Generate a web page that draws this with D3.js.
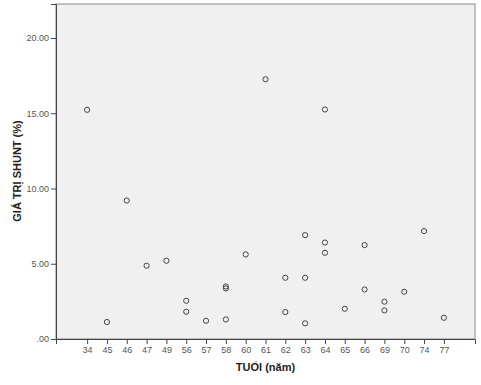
<!DOCTYPE html>
<html>
<head>
<meta charset="utf-8">
<script src="https://cdn.jsdelivr.net/npm/d3@7"></script>
<style>
  body { margin: 0; background: #fff; }
  svg { display: block; }
  .tick text { font-family: Arial, 'Liberation Sans', sans-serif; font-size: 9px; fill: #555; }
  .lbl { font-family: Arial, 'Liberation Sans', sans-serif; font-size: 11px; font-weight: bold; fill: #222; }
</style>
</head>
<body>
<svg width="481" height="385"></svg>
<script>
const ages = ['34', '45', '46', '47', '49', '56', '57', '58', '60', '61', '62', '63', '64', '65', '66', '69', '70', '74', '77']
const yTicks = [0, 5, 10, 15, 20]

// one entry per patient: age category, shunt value
const pointAge = ['34', '45', '46', '47', '49', '56', '56', '57', '58', '58', '58', '60', '61',
  '62', '62', '63', '63', '63', '64', '64', '64', '65', '66', '66', '69', '69', '70', '74', '77']
const pointShunt = [15.23, 1.13, 9.2, 4.87, 5.2, 2.54, 1.81, 1.21, 3.49, 3.36, 1.3, 5.62, 17.26,
  4.07, 1.79, 6.9, 4.07, 1.04, 15.25, 6.41, 5.73, 2.01, 6.24, 3.29, 2.48, 1.9, 3.14, 7.17, 1.41]

const plotLeft = 56
const plotRight = 475
const plotTop = 4
const plotBottom = 339

const svg = d3.select('svg')

const x = d3.scalePoint()
  .domain(ages)
  .range([plotLeft, plotRight])
  .padding(1.57)

const y = d3.scaleLinear()
  .domain([0, 22.26])
  .range([plotBottom, plotTop])

svg.append('rect')
  .attr('x', plotLeft)
  .attr('y', plotTop)
  .attr('width', plotRight - plotLeft)
  .attr('height', plotBottom - plotTop)
  .attr('fill', '#f0f0f0')
  .attr('stroke', '#888')
  .attr('stroke-width', 1)

const yAxis = svg.append('g')
  .attr('transform', `translate(${plotLeft},0)`)
  .call(d3.axisLeft(y).tickValues(yTicks).tickSize(5).tickPadding(2)
    .tickFormat(d => d === 0 ? '.00' : d3.format('.2f')(d)))
yAxis.select('.domain').attr('stroke', '#444')
yAxis.selectAll('.tick line').attr('stroke', '#444')

const xAxis = svg.append('g')
  .attr('transform', `translate(0,${plotBottom})`)
  .call(d3.axisBottom(x).tickSize(5).tickPadding(3))
xAxis.select('.domain').attr('stroke', '#444')
xAxis.selectAll('.tick line').attr('stroke', '#444')

svg.append('g')
  .selectAll('circle')
  .data(pointShunt)
  .join('circle')
  .attr('cx', (d, i) => x(pointAge[i]))
  .attr('cy', d => y(d))
  .attr('r', 2.6)
  .attr('fill', 'none')
  .attr('stroke', '#444')
  .attr('stroke-width', 1)

svg.append('text')
  .attr('class', 'lbl')
  .attr('x', (plotLeft + plotRight) / 2)
  .attr('y', 371)
  .attr('text-anchor', 'middle')
  .text('TUỔI (năm)')

svg.append('text')
  .attr('class', 'lbl')
  .attr('transform', 'translate(21,171) rotate(-90)')
  .attr('text-anchor', 'middle')
  .text('GIÁ TRỊ SHUNT (%)')
</script>
</body>
</html>
